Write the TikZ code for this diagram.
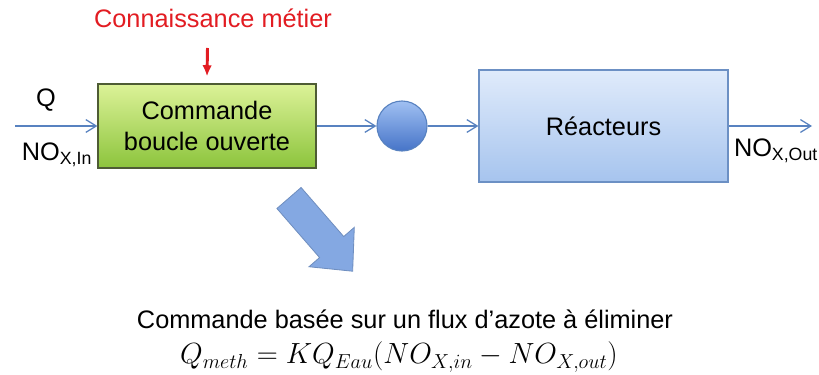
\documentclass[tikz,border=0pt]{standalone}
\usepackage{fontspec}
\setmainfont{Liberation Sans}
\usepackage{tikz}
\usetikzlibrary{arrows.meta, positioning, calc}
\definecolor{flowblue}{RGB}{88,130,192}
\definecolor{knowred}{RGB}{226,28,34}
\definecolor{cmdtop}{RGB}{220,242,152}
\definecolor{cmdbot}{RGB}{140,196,60}
\definecolor{cmdline}{RGB}{78,92,52}
\definecolor{reactop}{RGB}{224,235,251}
\definecolor{reacbot}{RGB}{166,196,238}
\definecolor{reacline}{RGB}{108,144,196}
\definecolor{junctop}{RGB}{160,192,242}
\definecolor{juncbot}{RGB}{70,116,200}
\definecolor{bigarrow}{RGB}{132,168,226}

\begin{document}
\begin{tikzpicture}[x=0.025cm, y=-0.025cm, font=\fontsize{18}{21.5}\selectfont,
  flow/.style={flowblue, line width=0.9pt, -{Straight Barb[length=2.6mm,width=3.2mm]}},
  block/.style={draw, line width=0.8pt, align=center, inner sep=0pt}]
  \useasboundingbox (0,0) rectangle (819,374);
  % ---- main chain: open-loop command -> junction -> reactors ----
  \node[block, draw=cmdline, top color=cmdtop, bottom color=cmdbot,
        minimum width=5.45cm, minimum height=2.1cm] (cmd) at (207,126) {Commande\\boucle ouverte};
  \node[circle, draw=flowblue, line width=0.8pt, top color=junctop, bottom color=juncbot,
        minimum size=1.25cm, inner sep=0pt] (junc) at (402,126) {};
  \node[block, draw=reacline, top color=reactop, bottom color=reacbot,
        minimum width=6.225cm, minimum height=2.8cm] (reac) at (603.5,126) {Réacteurs};
  \coordinate (in) at (15,126);
  \coordinate (out) at (812,126);
  \draw[flow] (in) -- (cmd);
  \draw[flow] (cmd) -- (junc);
  \draw[flow] (junc) -- (reac);
  \draw[flow] (reac) -- (out);
  % signal labels
  \node (q) at (46,100) {Q};
  \node (noin) at (57,155) {NO\textsubscript{X,In}};
  \node (noout) at (776,151) {NO\textsubscript{X,Out}};
  % ---- expert knowledge feeding the command ----
  \node[knowred] (know) at (213,18) {Connaissance métier};
  \coordinate (kstart) at (207.5,48);
  \draw[knowred, line width=2.1pt, -{Latex[length=2.8mm,width=2.4mm]}] (kstart) -- ([yshift=0.175cm]cmd.north);
  % ---- big block arrow down to the control law ----
  \begin{scope}[shift={(289,198)}, rotate=-49]
    \draw[fill=bigarrow, draw=bigarrow!85!black, line width=0.6pt]
      (0,-16) -- (65,-16) -- (65,-30) -- (97,0) -- (65,30) -- (65,16) -- (0,16) -- cycle;
  \end{scope}
  \node[inner sep=1pt] (basis) at (405,319) {Commande basée sur un flux d’azote à éliminer};
  \node[inner sep=1pt, font=\fontsize{20}{24}\selectfont] (law) at (399,357) {$Q_{meth} = KQ_{Eau}\bigl(NO_{X,in} - NO_{X,out}\bigr)$};
\end{tikzpicture}
\end{document}
